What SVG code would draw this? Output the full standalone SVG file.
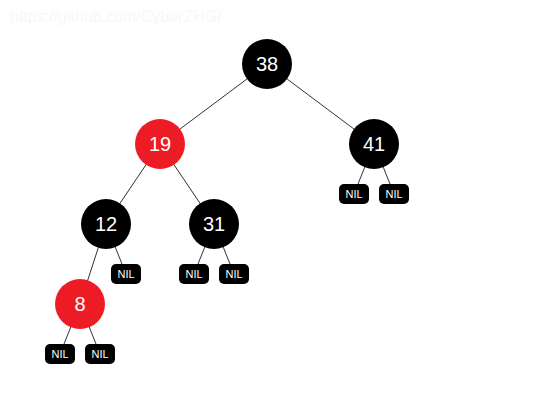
<svg xmlns="http://www.w3.org/2000/svg" width="535" height="400" viewBox="0 0 535 400">
<style>
.edge{stroke:#333;stroke-width:1;fill:none}
.blk{fill:#000}
.red{fill:#ed1c24}
.lbl{font-family:"Liberation Sans",Arial,sans-serif;font-size:20px;fill:#fff;text-anchor:middle;dominant-baseline:central}
.nil{fill:#000}
.nlbl{font-family:"Liberation Sans",Arial,sans-serif;font-size:11px;fill:#fff;text-anchor:middle;dominant-baseline:central}
.wm{font-family:"Liberation Sans",Arial,sans-serif;font-size:16px;fill:#f7f7f7}
</style>
<rect width="535" height="400" fill="#fff"/>
<text class="wm" x="10" y="22">https://github.com/CyberZHG/</text>
<g id="connectors">
<line class="edge" x1="267" y1="64" x2="160" y2="144"/>
<line class="edge" x1="267" y1="64" x2="374" y2="144"/>
<line class="edge" x1="160" y1="144" x2="106" y2="224"/>
<line class="edge" x1="160" y1="144" x2="214" y2="224"/>
<line class="edge" x1="374" y1="144" x2="354" y2="194"/>
<line class="edge" x1="374" y1="144" x2="394" y2="194"/>
<line class="edge" x1="106" y1="224" x2="80" y2="304"/>
<line class="edge" x1="106" y1="224" x2="126" y2="274"/>
<line class="edge" x1="214" y1="224" x2="194" y2="274"/>
<line class="edge" x1="214" y1="224" x2="234" y2="274"/>
<line class="edge" x1="80" y1="304" x2="60" y2="354"/>
<line class="edge" x1="80" y1="304" x2="100" y2="354"/>
</g>
<g id="n38"><circle class="blk" cx="267" cy="64" r="25"/><text class="lbl" x="267" y="64">38</text></g>
<g id="n19"><circle class="red" cx="160" cy="144" r="25"/><text class="lbl" x="160" y="144">19</text></g>
<g id="n41"><circle class="blk" cx="374" cy="144" r="25"/><text class="lbl" x="374" y="144">41</text></g>
<g id="n12"><circle class="blk" cx="106" cy="224" r="25"/><text class="lbl" x="106" y="224">12</text></g>
<g id="n31"><circle class="blk" cx="214" cy="224" r="25"/><text class="lbl" x="214" y="224">31</text></g>
<g id="n8"><circle class="red" cx="80" cy="304" r="25"/><text class="lbl" x="80" y="304">8</text></g>
<g id="nil41a"><rect class="nil" x="339" y="184" width="30" height="20" rx="5"/><text class="nlbl" x="354" y="194">NIL</text></g>
<g id="nil41b"><rect class="nil" x="379" y="184" width="30" height="20" rx="5"/><text class="nlbl" x="394" y="194">NIL</text></g>
<g id="nil12"><rect class="nil" x="111" y="264" width="30" height="20" rx="5"/><text class="nlbl" x="126" y="274">NIL</text></g>
<g id="nil31a"><rect class="nil" x="179" y="264" width="30" height="20" rx="5"/><text class="nlbl" x="194" y="274">NIL</text></g>
<g id="nil31b"><rect class="nil" x="219" y="264" width="30" height="20" rx="5"/><text class="nlbl" x="234" y="274">NIL</text></g>
<g id="nil8a"><rect class="nil" x="45" y="344" width="30" height="20" rx="5"/><text class="nlbl" x="60" y="354">NIL</text></g>
<g id="nil8b"><rect class="nil" x="85" y="344" width="30" height="20" rx="5"/><text class="nlbl" x="100" y="354">NIL</text></g>
</svg>
